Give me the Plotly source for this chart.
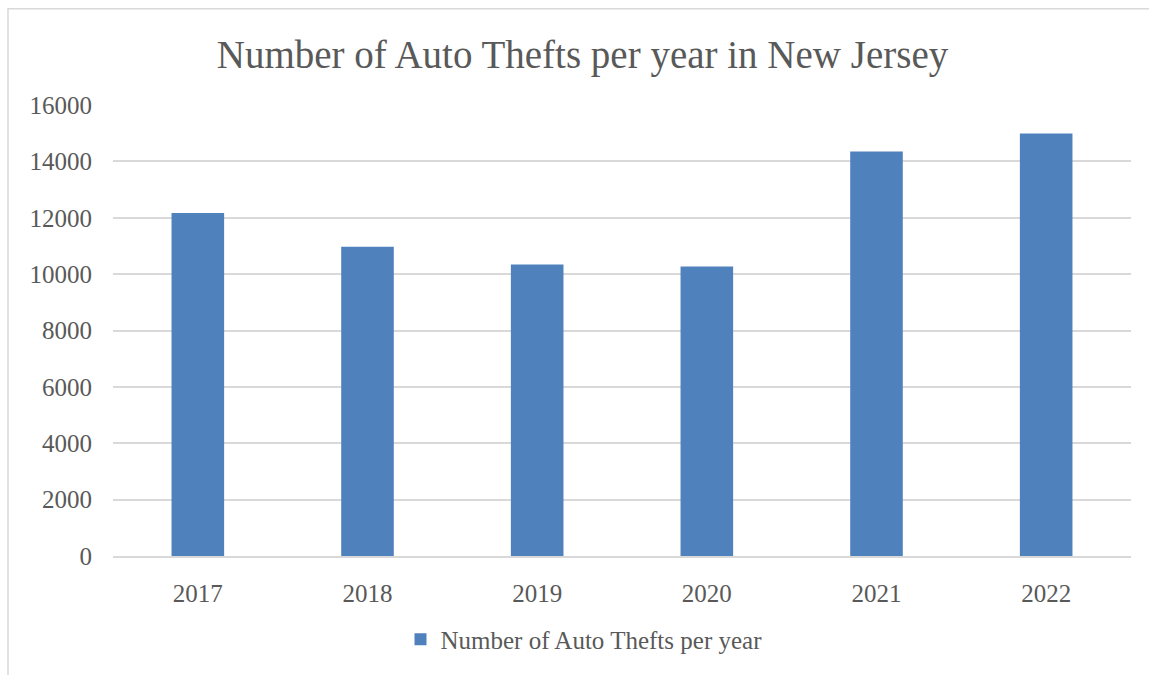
import plotly.graph_objects as go

years = ["2017", "2018", "2019", "2020", "2021", "2022"]
thefts = [12170, 10970, 10340, 10270, 14350, 14990]
y_ticks = [0, 2000, 4000, 6000, 8000, 10000, 12000, 14000, 16000]

W, H = 1149, 675
L, R, T, B = 113, 18, 105, 116
pw, ph = W - L - R, H - T - B

def px_x(p):
    return (p - L) / pw

def px_y(p):
    return (H - B - p) / ph

font = "Liberation Serif, Times New Roman, serif"
txt = "#595959"
grid = "#D9D9D9"

fig = go.Figure()
fig.add_trace(go.Bar(
    x=years, y=thefts, name="Number of Auto Thefts per year",
    marker=dict(color="#4F81BD", line=dict(width=0)),
    showlegend=True,
))

fig.update_layout(
    width=W, height=H,
    margin=dict(l=L, r=R, t=T, b=B),
    paper_bgcolor="white", plot_bgcolor="white",
    font=dict(family=font, color=txt, size=24),
    bargap=0.69,
    title=dict(text="Number of Auto Thefts per year in New Jersey",
               x=(219 + 946) / 2 / W, xanchor="center",
               y=1 - 54 / H, yanchor="middle",
               font=dict(family=font, size=39, color=txt)),
    showlegend=True,
    legend=dict(orientation="h", x=px_x(584), xanchor="center",
                y=px_y(643), yanchor="middle",
                font=dict(family=font, size=25, color=txt),
                bgcolor="rgba(0,0,0,0)"),
    xaxis=dict(showgrid=False, showline=True, linecolor=grid, linewidth=2,
               ticks="", ticklabelstandoff=14,
               tickfont=dict(family=font, size=25, color=txt)),
    yaxis=dict(range=[0, 16000], tickvals=y_ticks, ticktext=[str(v) for v in y_ticks],
               showgrid=True, gridcolor=grid, gridwidth=2, zeroline=False,
               showline=False, ticks="", ticklabelstandoff=20,
               tickfont=dict(family=font, size=25, color=txt)),
    shapes=[dict(type="rect", xref="paper", yref="paper",
                 x0=px_x(8), x1=px_x(W + 10), y0=px_y(H + 10), y1=px_y(8),
                 line=dict(color=grid, width=1.5), fillcolor="rgba(0,0,0,0)",
                 layer="below")],
)

fig.write_html("out.html")
